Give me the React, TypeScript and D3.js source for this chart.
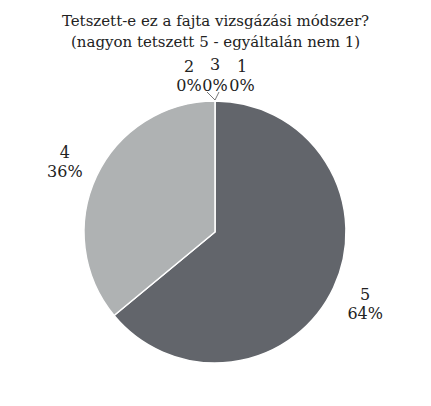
import * as d3 from "d3";

const categories = ["5", "4", "3", "2", "1"];
const percents = [64, 36, 0, 0, 0];
const colors = ["#62656b", "#afb2b3", "#8a8d90", "#8a8d90", "#8a8d90"];
const titleLines = [
  "Tetszett-e ez a fajta vizsgázási módszer?",
  "(nagyon tetszett 5 - egyáltalán nem 1)",
];

const W = 431;
const H = 406;
const cx = 215;
const cy = 232;
const radius = 131;
const FONT = "'DejaVu Serif', serif";

type Row = { key: string; value: number };

export default function App() {
  const data: Row[] = categories.map((c, i) => ({ key: c, value: percents[i] }));

  const pie = d3
    .pie<Row>()
    .sort(null)
    .value((d) => d.value)
    .startAngle(0)
    .endAngle(2 * Math.PI);
  const arcs = pie(data);

  const arc = d3.arc<d3.PieArcDatum<Row>>().innerRadius(0).outerRadius(radius);
  const labelArc = d3.arc<d3.PieArcDatum<Row>>().innerRadius(166).outerRadius(166);
  const zeroArc = d3.arc<d3.PieArcDatum<Row>>().innerRadius(157).outerRadius(157);

  // spread of the zero-value labels so they do not overlap
  const zeroShift: Record<string, number> = { "3": 0, "2": -26, "1": 27 };

  return (
    <svg width={W} height={H} style={{ position: "absolute", left: 0, top: 0, background: "#fff" }}>
      <text textAnchor="middle" fontFamily={FONT} fontSize={15} fill="#222">
        {titleLines.map((t, i) => (
          <tspan key={i} x={W / 2} y={26 + i * 21}>
            {t}
          </tspan>
        ))}
      </text>
      <g transform={`translate(${cx},${cy})`}>
        {arcs.map((a) =>
          a.value > 0 ? (
            <path key={a.data.key} d={arc(a) ?? ""} fill={colors[a.index]} stroke="#fff" strokeWidth={1.5} />
          ) : null
        )}
        <polyline
          points={`${-8},${-140} ${0},${-radius - 1} ${4},${-140}`}
          fill="none"
          stroke="#555"
          strokeWidth={0.8}
        />
        {arcs.map((a) => {
          const zero = a.value === 0;
          const [lx, ly] = zero ? zeroArc.centroid(a) : labelArc.centroid(a);
          const x = lx + (zero ? zeroShift[a.data.key] : 0);
          return (
            <text
              key={"l" + a.data.key}
              textAnchor="middle"
              fontFamily={FONT}
              fontSize={16}
              fill="#222"
            >
              <tspan x={x} y={ly - 3 - (zero ? (a.data.key === "3" ? 2 : 0) : 0)}>
                {a.data.key}
              </tspan>
              <tspan x={x} y={ly + 16}>
                {a.data.value}%
              </tspan>
            </text>
          );
        })}
      </g>
    </svg>
  );
}
